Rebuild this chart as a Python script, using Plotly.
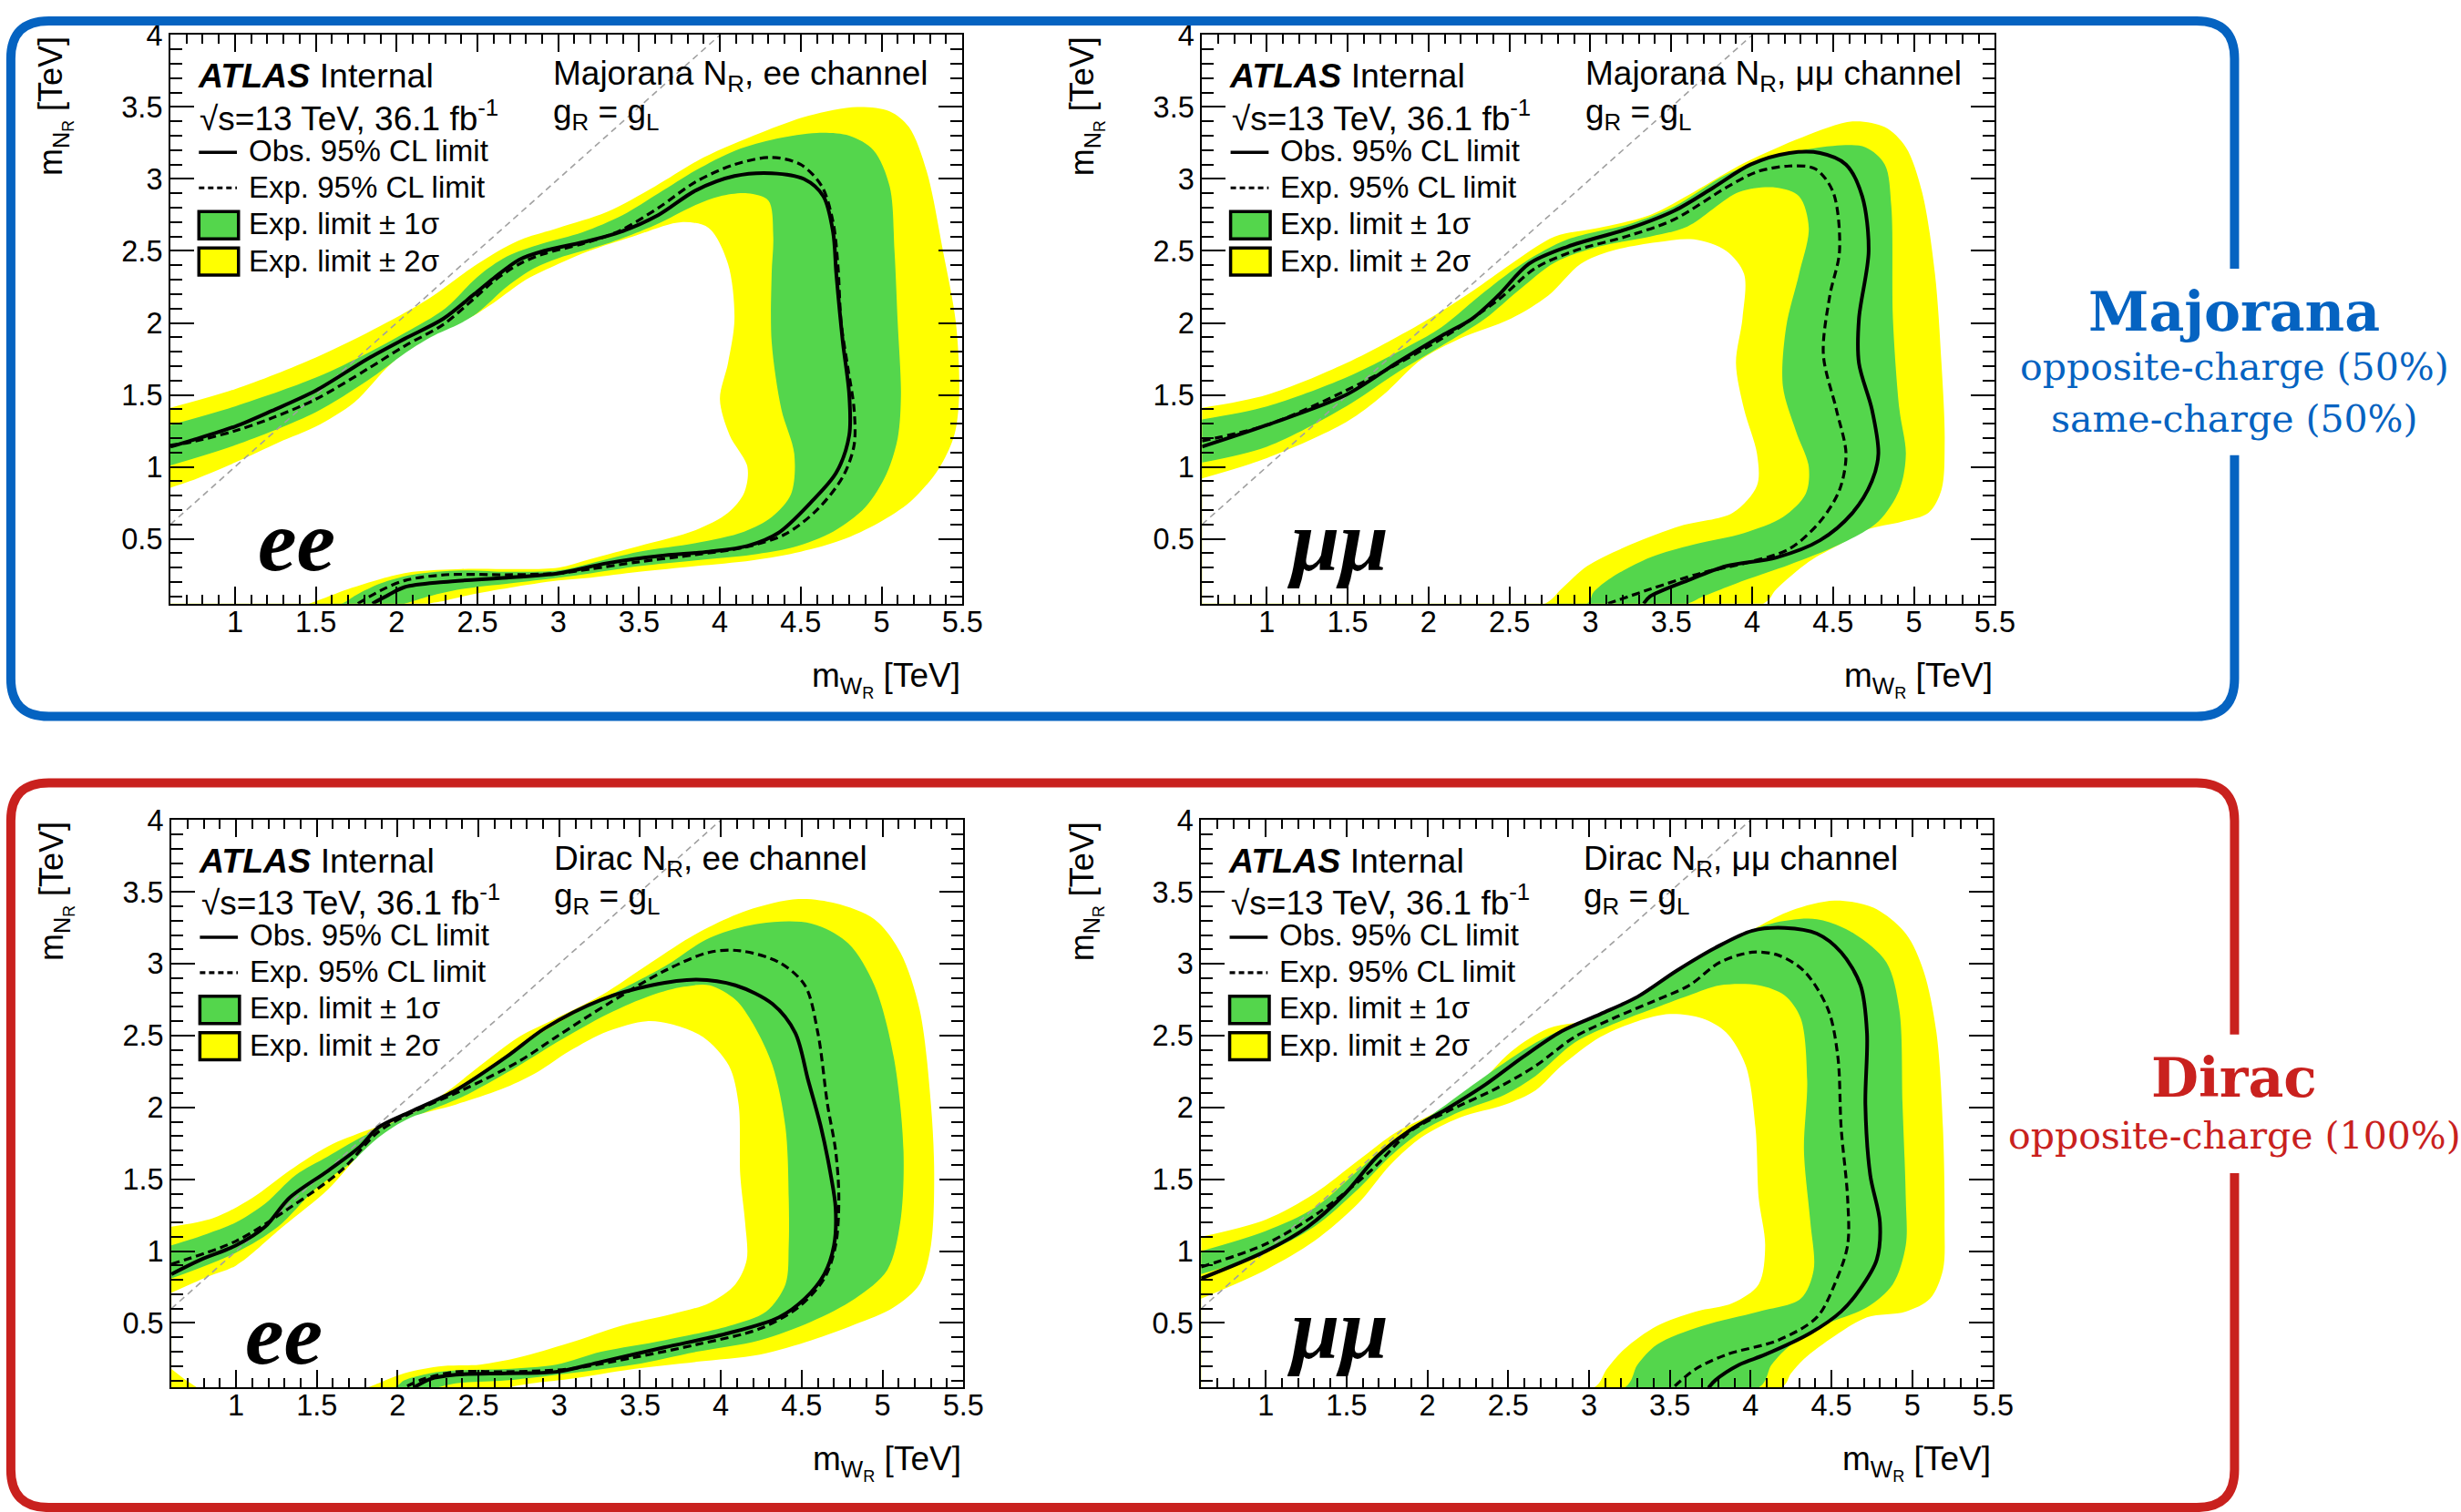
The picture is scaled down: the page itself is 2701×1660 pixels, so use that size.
import plotly.graph_objects as go

CANVAS_W, CANVAS_H = 2701, 1660
X_RANGE = [0.6, 5.5]
Y_RANGE = [0.05, 4.0]
DIAG_X = [0.6, 4.0]
DIAG_Y = [0.6, 4.0]

YELLOW = "#FFFF00"
GREEN = "#54D64C"
BLUE = "#0563C1"
RED = "#C9211E"
SANS = "Liberation Sans"
SERIF = "DejaVu Serif"

# ---------------- Majorana N_R, ee channel ----------------
MAJ_EE_OBS_X = [0.6, 0.72, 1.0, 1.23, 1.5, 1.82, 2.05, 2.29, 2.48, 2.6, 2.76, 2.91, 3.15, 3.38, 3.62, 3.85, 4.09, 4.32, 4.52, 4.64,
                4.7, 4.72, 4.76, 4.8, 4.8, 4.72, 4.56, 4.36, 4.17, 3.93, 3.62, 3.3, 3.0, 2.68, 2.29, 2.05, 1.95, 1.85]
MAJ_EE_OBS_Y = [1.14, 1.18, 1.28, 1.39, 1.53, 1.75, 1.89, 2.03, 2.2, 2.31, 2.44, 2.5, 2.56, 2.63, 2.75, 2.92, 3.02, 3.04, 3.0, 2.88,
                2.63, 2.34, 1.87, 1.5, 1.22, 0.96, 0.75, 0.54, 0.45, 0.41, 0.38, 0.33, 0.26, 0.23, 0.2, 0.165, 0.11, 0.05]
MAJ_EE_EXP_X = [0.6, 0.72, 1.0, 1.23, 1.5, 1.82, 2.05, 2.29, 2.48, 2.6, 2.76, 2.91, 3.15, 3.38, 3.62, 3.85, 4.09, 4.32, 4.5, 4.63,
                4.7, 4.73, 4.75, 4.79, 4.83, 4.83, 4.76, 4.6, 4.4, 4.15, 3.85, 3.5, 3.2, 3.0, 2.68, 2.3, 2.05, 1.9, 1.76]
MAJ_EE_EXP_Y = [1.15, 1.17, 1.25, 1.34, 1.47, 1.68, 1.84, 1.99, 2.17, 2.29, 2.41, 2.48, 2.55, 2.64, 2.8, 2.98, 3.1, 3.15, 3.1, 2.95,
                2.7, 2.4, 2.0, 1.7, 1.4, 1.15, 0.93, 0.7, 0.53, 0.44, 0.39, 0.34, 0.29, 0.26, 0.25, 0.25, 0.21, 0.14, 0.05]
MAJ_EE_P1_X = [0.6, 1.0, 1.5, 1.82, 2.05, 2.3, 2.5, 2.68, 2.9, 3.15, 3.4, 3.62, 3.85, 4.1, 4.35, 4.6, 4.8, 4.95, 5.05, 5.08,
               5.1, 5.12, 5.1, 5.03, 4.9, 4.7, 4.45, 4.2, 3.85, 3.5, 3.2, 3.0, 2.7, 2.4, 2.2, 2.05]
MAJ_EE_P1_Y = [1.29, 1.42, 1.62, 1.79, 1.93, 2.1, 2.32, 2.46, 2.55, 2.63, 2.75, 2.9, 3.06, 3.2, 3.28, 3.32, 3.3, 3.2, 2.95, 2.5,
               2.0, 1.5, 1.2, 0.95, 0.72, 0.55, 0.44, 0.39, 0.35, 0.31, 0.26, 0.23, 0.19, 0.15, 0.1, 0.05]
MAJ_EE_M1_X = [0.6, 1.0, 1.5, 1.82, 2.05, 2.29, 2.5, 2.68, 2.85, 3.0, 3.3, 3.6, 3.85, 4.0, 4.17, 4.3, 4.33, 4.32, 4.32, 4.38,
               4.46, 4.44, 4.32, 4.15, 3.85, 3.5, 3.2, 3.0, 2.7, 2.4, 2.1, 1.9, 1.75, 1.66]
MAJ_EE_M1_Y = [1.01, 1.15, 1.38, 1.6, 1.78, 1.92, 2.07, 2.25, 2.38, 2.45, 2.55, 2.68, 2.82, 2.88, 2.9, 2.85, 2.6, 2.34, 1.87, 1.4,
               1.09, 0.81, 0.65, 0.55, 0.47, 0.41, 0.33, 0.28, 0.27, 0.28, 0.25, 0.19, 0.11, 0.05]
MAJ_EE_P2_X = [0.6, 1.0, 1.5, 1.9, 2.2, 2.5, 2.75, 3.0, 3.3, 3.6, 3.9, 4.25, 4.55, 4.85, 5.05, 5.17, 5.28, 5.38, 5.46, 5.48,
               5.45, 5.35, 5.18, 4.98, 4.75, 4.5, 4.2, 3.85, 3.5, 3.2, 3.0, 2.7, 2.45, 2.3, 2.2]
MAJ_EE_P2_Y = [1.41, 1.54, 1.76, 1.98, 2.17, 2.41, 2.57, 2.66, 2.77, 2.95, 3.15, 3.32, 3.44, 3.5, 3.47, 3.36, 3.05, 2.5, 2.0, 1.5,
               1.22, 0.98, 0.76, 0.61, 0.49, 0.41, 0.35, 0.31, 0.27, 0.23, 0.21, 0.16, 0.11, 0.07, 0.05]
MAJ_EE_M2_X = [0.6, 0.72, 1.0, 1.27, 1.5, 1.74, 1.97, 2.21, 2.4, 2.6, 2.8, 3.0, 3.19, 3.46, 3.76, 3.93, 4.05, 4.09, 4.05, 4.0,
               4.06, 4.17, 4.15, 4.05, 3.85, 3.5, 3.2, 3.0, 2.7, 2.4, 2.1, 1.9, 1.7, 1.46]
MAJ_EE_M2_Y = [0.855, 0.9, 1.03, 1.17, 1.28, 1.45, 1.72, 1.9, 2.0, 2.14, 2.3, 2.41, 2.5, 2.6, 2.7, 2.66, 2.41, 2.03, 1.72, 1.47,
               1.22, 1.0, 0.82, 0.68, 0.56, 0.45, 0.36, 0.3, 0.29, 0.29, 0.27, 0.22, 0.15, 0.05]

# ---------------- Majorana N_R, mumu channel ----------------
MAJ_MM_OBS_X = [0.6, 1.0, 1.49, 1.8, 2.08, 2.27, 2.43, 2.62, 2.86, 3.25, 3.52, 3.76, 3.99, 4.23, 4.42, 4.58, 4.68, 4.72, 4.66, 4.66,
                4.74, 4.78, 4.74, 4.62, 4.42, 4.15, 3.84, 3.6, 3.37, 3.33]
MAJ_MM_OBS_Y = [1.14, 1.29, 1.5, 1.72, 1.91, 2.03, 2.19, 2.41, 2.53, 2.66, 2.78, 2.94, 3.1, 3.18, 3.18, 3.1, 2.88, 2.5, 2.03, 1.72,
                1.4, 1.09, 0.9, 0.68, 0.49, 0.37, 0.31, 0.21, 0.1, 0.05]
MAJ_MM_EXP_X = [0.6, 1.0, 1.49, 2.08, 2.43, 2.66, 2.9, 3.25, 3.52, 3.84, 4.03, 4.23, 4.39, 4.5, 4.54, 4.48, 4.44, 4.52, 4.58, 4.54,
                4.42, 4.23, 3.99, 3.68, 3.37, 3.11]
MAJ_MM_EXP_Y = [1.18, 1.29, 1.53, 1.89, 2.16, 2.38, 2.5, 2.61, 2.72, 2.94, 3.05, 3.09, 3.07, 2.91, 2.5, 2.19, 1.78, 1.4, 1.09, 0.84,
                0.62, 0.43, 0.34, 0.26, 0.15, 0.05]
MAJ_MM_P1_X = [0.6, 1.0, 1.49, 1.88, 2.08, 2.35, 2.59, 2.86, 3.25, 3.52, 3.84, 4.15, 4.5, 4.7, 4.82, 4.86, 4.87, 4.91, 4.95, 4.91,
               4.78, 4.54, 4.23, 3.95, 3.68, 3.6]
MAJ_MM_P1_Y = [1.33, 1.42, 1.62, 1.84, 1.97, 2.22, 2.42, 2.58, 2.69, 2.81, 3.03, 3.16, 3.23, 3.22, 3.1, 2.81, 2.03, 1.4, 1.09, 0.84,
               0.62, 0.46, 0.32, 0.21, 0.09, 0.05]
MAJ_MM_M1_X = [0.6, 1.0, 1.49, 1.8, 2.08, 2.35, 2.55, 2.78, 3.05, 3.37, 3.6, 3.92, 4.15, 4.29, 4.35, 4.29, 4.21, 4.19, 4.27, 4.35,
               4.33, 4.19, 3.95, 3.64, 3.37, 3.13, 3.02, 2.98]
MAJ_MM_M1_Y = [1.03, 1.14, 1.42, 1.65, 1.84, 2.03, 2.22, 2.42, 2.53, 2.6, 2.67, 2.91, 2.94, 2.88, 2.66, 2.34, 1.97, 1.56, 1.25, 1.0,
               0.81, 0.65, 0.54, 0.46, 0.37, 0.23, 0.13, 0.05]
MAJ_MM_P2_X = [0.6, 1.0, 1.49, 1.96, 2.27, 2.51, 2.78, 3.05, 3.37, 3.64, 3.95, 4.31, 4.62, 4.82, 4.95, 5.05, 5.13, 5.17, 5.19, 5.17,
               5.09, 4.93, 4.7, 4.54, 4.35, 4.15, 4.07]
MAJ_MM_P2_Y = [1.41, 1.5, 1.72, 2.0, 2.22, 2.41, 2.6, 2.66, 2.75, 2.91, 3.11, 3.29, 3.4, 3.36, 3.22, 2.91, 2.34, 1.72, 1.18, 0.84,
               0.68, 0.62, 0.56, 0.46, 0.34, 0.15, 0.05]
MAJ_MM_M2_X = [0.6, 1.0, 1.49, 1.72, 1.96, 2.19, 2.51, 2.74, 2.94, 3.13, 3.41, 3.64, 3.84, 3.95, 3.94, 3.9, 3.95, 4.03, 4.03, 3.88,
               3.56, 3.25, 2.98, 2.82, 2.72]
MAJ_MM_M2_Y = [0.92, 1.06, 1.31, 1.5, 1.75, 1.89, 2.03, 2.19, 2.41, 2.5, 2.56, 2.58, 2.5, 2.34, 2.03, 1.72, 1.4, 1.09, 0.87, 0.68,
               0.59, 0.46, 0.31, 0.15, 0.05]

# ---------------- Dirac N_R, ee channel ----------------
DIR_EE_OBS_X = [0.6, 0.78, 1.0, 1.18, 1.33, 1.57, 1.77, 1.88, 2.08, 2.36, 2.67, 2.91, 3.26, 3.57, 3.85, 4.09, 4.32, 4.46, 4.54, 4.62,
                4.68, 4.71, 4.7, 4.64, 4.52, 4.36, 4.05, 3.65, 3.26, 2.98, 2.67, 2.36, 2.2, 2.1]
DIR_EE_OBS_Y = [0.84, 0.94, 1.04, 1.17, 1.37, 1.56, 1.73, 1.86, 1.97, 2.12, 2.35, 2.55, 2.75, 2.85, 2.89, 2.85, 2.72, 2.52, 2.19, 1.86,
                1.53, 1.3, 1.04, 0.84, 0.67, 0.54, 0.43, 0.33, 0.23, 0.16, 0.15, 0.14, 0.11, 0.05]
DIR_EE_EXP_X = [0.6, 1.0, 1.33, 1.65, 1.88, 2.08, 2.4, 2.75, 2.98, 3.3, 3.65, 3.93, 4.12, 4.36, 4.52, 4.6, 4.66, 4.71, 4.73, 4.71,
                4.64, 4.48, 4.24, 3.85, 3.46, 3.06, 2.67, 2.36, 2.16, 2.04]
DIR_EE_EXP_Y = [0.91, 1.07, 1.3, 1.56, 1.83, 1.96, 2.12, 2.32, 2.49, 2.72, 2.95, 3.08, 3.09, 3.01, 2.85, 2.52, 2.02, 1.7, 1.37, 1.04,
                0.81, 0.61, 0.46, 0.35, 0.26, 0.18, 0.16, 0.16, 0.11, 0.05]
DIR_EE_P1_X = [0.6, 0.82, 1.0, 1.18, 1.37, 1.57, 1.77, 1.96, 2.2, 2.47, 2.75, 2.98, 3.26, 3.65, 3.93, 4.24, 4.56, 4.79, 4.95, 5.07,
               5.13, 5.11, 5.03, 4.83, 4.56, 4.24, 3.85, 3.46, 3.06, 2.67, 2.36, 2.24]
DIR_EE_P1_Y = [1.04, 1.12, 1.2, 1.33, 1.53, 1.66, 1.79, 1.89, 2.02, 2.19, 2.42, 2.58, 2.75, 2.98, 3.18, 3.28, 3.28, 3.14, 2.85, 2.35,
               1.7, 1.2, 0.87, 0.67, 0.51, 0.38, 0.3, 0.21, 0.15, 0.1, 0.08, 0.05]
DIR_EE_M1_X = [0.6, 1.0, 1.26, 1.49, 1.73, 1.92, 2.12, 2.43, 2.75, 2.98, 3.3, 3.57, 3.77, 3.93, 4.09, 4.2, 4.32, 4.4, 4.42, 4.42,
               4.4, 4.28, 4.05, 3.65, 3.26, 2.98, 2.67, 2.36, 2.2, 2.04, 1.98]
DIR_EE_M1_Y = [0.81, 0.99, 1.17, 1.43, 1.63, 1.81, 1.94, 2.09, 2.29, 2.45, 2.65, 2.78, 2.84, 2.85, 2.75, 2.58, 2.29, 1.86, 1.37, 1.04,
               0.77, 0.58, 0.48, 0.38, 0.3, 0.21, 0.18, 0.17, 0.15, 0.1, 0.05]
DIR_EE_P2_X = [0.6, 0.86, 1.1, 1.33, 1.57, 1.81, 2.04, 2.28, 2.51, 2.75, 2.98, 3.26, 3.57, 3.85, 4.16, 4.48, 4.71, 4.95, 5.11, 5.23,
               5.3, 5.32, 5.3, 5.23, 5.07, 4.83, 4.56, 4.24, 3.85, 3.46, 3.06, 2.83, 2.67]
DIR_EE_P2_Y = [1.17, 1.23, 1.37, 1.56, 1.73, 1.84, 1.93, 2.09, 2.29, 2.49, 2.62, 2.78, 3.01, 3.21, 3.37, 3.45, 3.42, 3.31, 3.08, 2.68,
               2.02, 1.53, 1.04, 0.77, 0.61, 0.49, 0.38, 0.28, 0.23, 0.18, 0.11, 0.08, 0.05]
DIR_EE_M2_X = [0.6, 0.82, 1.0, 1.29, 1.57, 1.73, 1.88, 2.08, 2.36, 2.67, 2.87, 3.06, 3.3, 3.54, 3.69, 3.89, 4.05, 4.11, 4.12, 4.15,
               4.16, 4.09, 3.93, 3.69, 3.38, 3.06, 2.75, 2.51, 2.28, 2.04, 1.88, 1.81]
DIR_EE_M2_Y = [0.71, 0.82, 0.9, 1.17, 1.43, 1.63, 1.79, 1.93, 2.02, 2.14, 2.25, 2.39, 2.53, 2.6, 2.58, 2.49, 2.29, 2.02, 1.53, 1.2,
               0.94, 0.77, 0.64, 0.56, 0.48, 0.36, 0.26, 0.21, 0.2, 0.15, 0.08, 0.05]
# small -2 sigma island in the low-mass corner
DIR_EE_CORNER_X = [0.6, 0.68, 0.76]
DIR_EE_CORNER_Y = [0.18, 0.11, 0.05]

# ---------------- Dirac N_R, mumu channel ----------------
DIR_MM_OBS_X = [0.6, 1.0, 1.26, 1.49, 1.69, 1.89, 2.12, 2.36, 2.59, 2.83, 3.07, 3.3, 3.54, 3.78, 4.01, 4.21, 4.41, 4.56, 4.68, 4.72,
                4.71, 4.74, 4.8, 4.78, 4.68, 4.56, 4.37, 4.09, 3.93, 3.78, 3.74]
DIR_MM_OBS_Y = [0.81, 1.0, 1.17, 1.4, 1.66, 1.84, 1.99, 2.16, 2.35, 2.53, 2.65, 2.77, 2.95, 3.11, 3.23, 3.25, 3.21, 3.08, 2.85, 2.52,
                2.02, 1.53, 1.2, 0.94, 0.74, 0.58, 0.43, 0.28, 0.21, 0.1, 0.05]
DIR_MM_EXP_X = [0.6, 1.0, 1.33, 1.65, 1.89, 2.12, 2.44, 2.67, 2.91, 3.15, 3.38, 3.62, 3.81, 4.01, 4.17, 4.33, 4.48, 4.54, 4.56, 4.6,
                4.6, 4.52, 4.41, 4.17, 3.85, 3.66, 3.52]
DIR_MM_EXP_Y = [0.89, 1.05, 1.27, 1.56, 1.83, 1.97, 2.14, 2.29, 2.49, 2.62, 2.73, 2.85, 3.01, 3.08, 3.06, 2.95, 2.68, 2.35, 1.86, 1.37,
                1.04, 0.77, 0.54, 0.38, 0.28, 0.18, 0.05]
DIR_MM_P1_X = [0.6, 1.0, 1.3, 1.57, 1.81, 2.04, 2.36, 2.67, 2.91, 3.22, 3.54, 3.85, 4.13, 4.41, 4.64, 4.84, 4.92, 4.94, 4.96, 4.96,
               4.88, 4.72, 4.44, 4.25, 4.13, 4.05]
DIR_MM_P1_Y = [1.0, 1.14, 1.3, 1.56, 1.79, 1.96, 2.22, 2.45, 2.58, 2.72, 2.95, 3.16, 3.28, 3.31, 3.21, 3.01, 2.68, 2.02, 1.37, 1.04,
               0.77, 0.61, 0.48, 0.35, 0.21, 0.05]
DIR_MM_M1_X = [0.6, 1.0, 1.3, 1.57, 1.77, 1.96, 2.2, 2.48, 2.67, 2.91, 3.15, 3.38, 3.62, 3.81, 4.05, 4.21, 4.31, 4.35, 4.33, 4.37,
               4.39, 4.31, 4.05, 3.7, 3.42, 3.3, 3.22]
DIR_MM_M1_Y = [0.84, 0.99, 1.17, 1.43, 1.66, 1.83, 1.97, 2.09, 2.22, 2.45, 2.58, 2.68, 2.78, 2.85, 2.85, 2.78, 2.62, 2.19, 1.7, 1.2,
               0.87, 0.67, 0.58, 0.48, 0.35, 0.21, 0.05]
DIR_MM_P2_X = [0.6, 1.0, 1.3, 1.57, 1.81, 2.04, 2.28, 2.52, 2.75, 3.07, 3.38, 3.7, 3.97, 4.25, 4.52, 4.76, 4.96, 5.07, 5.15, 5.19,
               5.2, 5.19, 5.11, 4.96, 4.72, 4.52, 4.33, 4.25, 4.19]
DIR_MM_P2_Y = [1.1, 1.22, 1.4, 1.63, 1.83, 1.96, 2.12, 2.39, 2.55, 2.62, 2.78, 3.03, 3.21, 3.37, 3.44, 3.39, 3.21, 2.95, 2.52, 1.86,
               1.2, 0.87, 0.67, 0.58, 0.54, 0.41, 0.25, 0.15, 0.05]
DIR_MM_M2_X = [0.6, 1.0, 1.3, 1.57, 1.77, 1.96, 2.2, 2.48, 2.67, 2.83, 3.07, 3.3, 3.5, 3.7, 3.85, 3.97, 4.03, 4.05, 4.09, 4.05,
               3.89, 3.66, 3.42, 3.22, 3.11, 3.03]
DIR_MM_M2_Y = [0.67, 0.87, 1.07, 1.33, 1.6, 1.79, 1.93, 2.02, 2.12, 2.29, 2.49, 2.6, 2.65, 2.62, 2.52, 2.29, 1.86, 1.37, 1.04, 0.77,
               0.64, 0.58, 0.48, 0.32, 0.18, 0.05]

# panel frames in canvas pixels: (left, top, right, bottom)
PANELS = [
    dict(title="Majorana", chan="ee", big="ee", px=(188.6, 20.7, 1065.3, 651.7), big_pos=(0.108, 0.11),
         obs=(MAJ_EE_OBS_X, MAJ_EE_OBS_Y), exp=(MAJ_EE_EXP_X, MAJ_EE_EXP_Y),
         p1=(MAJ_EE_P1_X, MAJ_EE_P1_Y), m1=(MAJ_EE_M1_X, MAJ_EE_M1_Y),
         p2=(MAJ_EE_P2_X, MAJ_EE_P2_Y), m2=(MAJ_EE_M2_X, MAJ_EE_M2_Y), corner=None),
    dict(title="Majorana", chan="μμ", big="μμ", px=(1330.6, 20.7, 2208.2, 651.7), big_pos=(0.104, 0.11),
         obs=(MAJ_MM_OBS_X, MAJ_MM_OBS_Y), exp=(MAJ_MM_EXP_X, MAJ_MM_EXP_Y),
         p1=(MAJ_MM_P1_X, MAJ_MM_P1_Y), m1=(MAJ_MM_M1_X, MAJ_MM_M1_Y),
         p2=(MAJ_MM_P2_X, MAJ_MM_P2_Y), m2=(MAJ_MM_M2_X, MAJ_MM_M2_Y), corner=None),
    dict(title="Dirac", chan="ee", big="ee", px=(189.7, 892.0, 1066.3, 1522.0), big_pos=(0.091, 0.095),
         obs=(DIR_EE_OBS_X, DIR_EE_OBS_Y), exp=(DIR_EE_EXP_X, DIR_EE_EXP_Y),
         p1=(DIR_EE_P1_X, DIR_EE_P1_Y), m1=(DIR_EE_M1_X, DIR_EE_M1_Y),
         p2=(DIR_EE_P2_X, DIR_EE_P2_Y), m2=(DIR_EE_M2_X, DIR_EE_M2_Y),
         corner=(DIR_EE_CORNER_X, DIR_EE_CORNER_Y)),
    dict(title="Dirac", chan="μμ", big="μμ", px=(1329.6, 892.0, 2206.2, 1522.0), big_pos=(0.105, 0.105),
         obs=(DIR_MM_OBS_X, DIR_MM_OBS_Y), exp=(DIR_MM_EXP_X, DIR_MM_EXP_Y),
         p1=(DIR_MM_P1_X, DIR_MM_P1_Y), m1=(DIR_MM_M1_X, DIR_MM_M1_Y),
         p2=(DIR_MM_P2_X, DIR_MM_P2_Y), m2=(DIR_MM_M2_X, DIR_MM_M2_Y), corner=None),
]


def fx(px):
    return px / CANVAS_W


def fy(py):
    return 1 - py / CANVAS_H


def closed(xs, ys):
    """Close a contour that runs from the left edge to the bottom edge
    through the low-mass corner (outside the visible frame)."""
    cx = X_RANGE[0] - 0.5
    cy = Y_RANGE[0] - 0.5
    return list(xs) + [cx, cx], list(ys) + [cy, ys[0]]


fig = go.Figure()
annotations = []
shapes = []

for i, p in enumerate(PANELS, start=1):
    xa = "x" if i == 1 else f"x{i}"
    ya = "y" if i == 1 else f"y{i}"
    xd, yd = f"{xa} domain", f"{ya} domain"
    common = dict(xaxis=xa, yaxis=ya, hoverinfo="skip", showlegend=False, mode="lines")

    # bands: +2σ yellow, +1σ green, -1σ yellow, -2σ white
    for key, color in (("p2", YELLOW), ("p1", GREEN), ("m1", YELLOW), ("m2", "white")):
        bx, by = closed(*p[key])
        fig.add_trace(go.Scatter(x=bx, y=by, fill="toself", fillcolor=color,
                                 line=dict(width=0, color=color, shape="spline", smoothing=0.9), **common))
    if p["corner"] is not None:
        cx, cy = p["corner"]
        px_ = [X_RANGE[0] - 0.5] + list(cx) + [cx[-1], X_RANGE[0] - 0.5]
        py_ = [cy[0]] + list(cy) + [Y_RANGE[0] - 0.5, Y_RANGE[0] - 0.5]
        fig.add_trace(go.Scatter(x=px_, y=py_, fill="toself", fillcolor=YELLOW,
                                 line=dict(width=0, color=YELLOW), **common))

    # kinematic boundary m_N = m_W
    fig.add_trace(go.Scatter(x=DIAG_X, y=DIAG_Y, line=dict(color="#a0a0a0", width=1.6, dash="7px,5px"), **common))
    fig.add_trace(go.Scatter(x=p["exp"][0], y=p["exp"][1],
                             line=dict(color="black", width=3.2, dash="9px,5px", shape="spline", smoothing=0.9), **common))
    fig.add_trace(go.Scatter(x=p["obs"][0], y=p["obs"][1],
                             line=dict(color="black", width=4, shape="spline", smoothing=0.9), **common))

    x0, y0, x1, y1 = p["px"]
    axis_common = dict(showline=True, linecolor="black", linewidth=2, mirror="ticks",
                       ticks="inside", tickcolor="black", tickwidth=2,
                       showgrid=False, zeroline=False, fixedrange=True,
                       tickfont=dict(family=SANS, size=32.5, color="black"),
                       tick0=0, dtick=0.5)
    fig.update_layout(**{
        ("xaxis" if i == 1 else f"xaxis{i}"): dict(
            domain=[fx(x0), fx(x1)], range=X_RANGE, anchor=ya, ticklen=19, ticklabelstandoff=-10,
            minor=dict(dtick=0.1, tick0=0, ticklen=10, ticks="inside", tickwidth=1.5, tickcolor="black"),
            **axis_common),
        ("yaxis" if i == 1 else f"yaxis{i}"): dict(
            domain=[fy(y1), fy(y0)], range=Y_RANGE, anchor=xa, ticklen=26,
            minor=dict(dtick=0.1, tick0=0, ticklen=13, ticks="inside", tickwidth=1.5, tickcolor="black"),
            **axis_common),
    })

    def ann(x, y, text, size, family=SANS, xanchor="left", yanchor="middle", angle=0):
        annotations.append(dict(xref=xd, yref=yd, x=x, y=y, text=text, showarrow=False,
                                xanchor=xanchor, yanchor=yanchor, textangle=angle,
                                font=dict(family=family, size=size, color="black")))

    ann(0.032, 0.928, "<b><i>ATLAS</i></b> Internal", 37.5)
    ann(0.035, 0.858, "√s=13 TeV, 36.1 fb<sup>-1</sup>", 37)
    ann(0.0967, 0.7968, "Obs. 95% CL limit", 33)
    ann(0.0967, 0.7328, "Exp. 95% CL limit", 33)
    ann(0.0967, 0.6688, "Exp. limit ± 1σ", 33)
    ann(0.0967, 0.6032, "Exp. limit ± 2σ", 33)
    ann(0.481, 0.928, f"{p['title']} N<sub>R</sub>, {p['chan']} channel", 37)
    ann(0.481, 0.862, "g<sub>R</sub> = g<sub>L</sub>", 37)
    ann(p["big_pos"][0], p["big_pos"][1], f"<b><i>{p['big']}</i></b>", 96, family="Liberation Serif")
    ann(1.0, -0.133, "m<sub>W<sub>R</sub></sub> [TeV]", 37, xanchor="right")
    ann(-0.146, 1.0, "m<sub>N<sub>R</sub></sub> [TeV]", 36, xanchor="center", yanchor="top", angle=-90)

    # legend symbols
    shapes.append(dict(type="line", xref=xd, yref=yd, x0=0.036, x1=0.084, y0=0.7936, y1=0.7936,
                       line=dict(color="black", width=3.5)))
    shapes.append(dict(type="line", xref=xd, yref=yd, x0=0.036, x1=0.084, y0=0.7312, y1=0.7312,
                       line=dict(color="black", width=3.2, dash="6px,4px")))
    shapes.append(dict(type="rect", xref=xd, yref=yd, x0=0.036, x1=0.086, y0=0.6416, y1=0.6896,
                       fillcolor=GREEN, line=dict(color="black", width=3.5)))
    shapes.append(dict(type="rect", xref=xd, yref=yd, x0=0.036, x1=0.086, y0=0.5776, y1=0.6256,
                       fillcolor=YELLOW, line=dict(color="black", width=3.5)))


def frame_path(left, top, right, bottom, gap_top, gap_bottom, r):
    """Rounded frame drawn as an open path, leaving a gap on the right side."""
    return (f"M {fx(right)},{fy(gap_bottom)} L {fx(right)},{fy(bottom - r)} "
            f"Q {fx(right)},{fy(bottom)} {fx(right - r)},{fy(bottom)} "
            f"L {fx(left + r)},{fy(bottom)} Q {fx(left)},{fy(bottom)} {fx(left)},{fy(bottom - r)} "
            f"L {fx(left)},{fy(top + r)} Q {fx(left)},{fy(top)} {fx(left + r)},{fy(top)} "
            f"L {fx(right - r)},{fy(top)} Q {fx(right)},{fy(top)} {fx(right)},{fy(top + r)} "
            f"L {fx(right)},{fy(gap_top)}")


shapes.append(dict(type="path", xref="paper", yref="paper",
                   path=frame_path(12, 5, 2473.5, 777, 280, 487, 42), line=dict(color=BLUE, width=10)))
shapes.append(dict(type="path", xref="paper", yref="paper",
                   path=frame_path(12, 850.6, 2473.5, 1655, 1130, 1284, 42), line=dict(color=RED, width=10)))


def side_text(py, text, size, color):
    annotations.append(dict(xref="paper", yref="paper", x=fx(2473.5), y=fy(py), text=text, showarrow=False,
                            xanchor="center", yanchor="middle",
                            font=dict(family=SERIF, size=size, color=color)))


side_text(327.6, "<b>Majorana</b>", 60, BLUE)
side_text(389.2, "opposite-charge (50%)", 41, BLUE)
side_text(446.7, "same-charge (50%)", 41, BLUE)
side_text(1177.7, "<b>Dirac</b>", 60, RED)
side_text(1242.3, "opposite-charge (100%)", 41, RED)

fig.update_layout(width=CANVAS_W, height=CANVAS_H, margin=dict(l=0, r=0, t=0, b=0),
                  paper_bgcolor="white", plot_bgcolor="white",
                  annotations=annotations, shapes=shapes, showlegend=False)

fig.write_html("out.html", post_script="document.body.style.margin='0px';")
